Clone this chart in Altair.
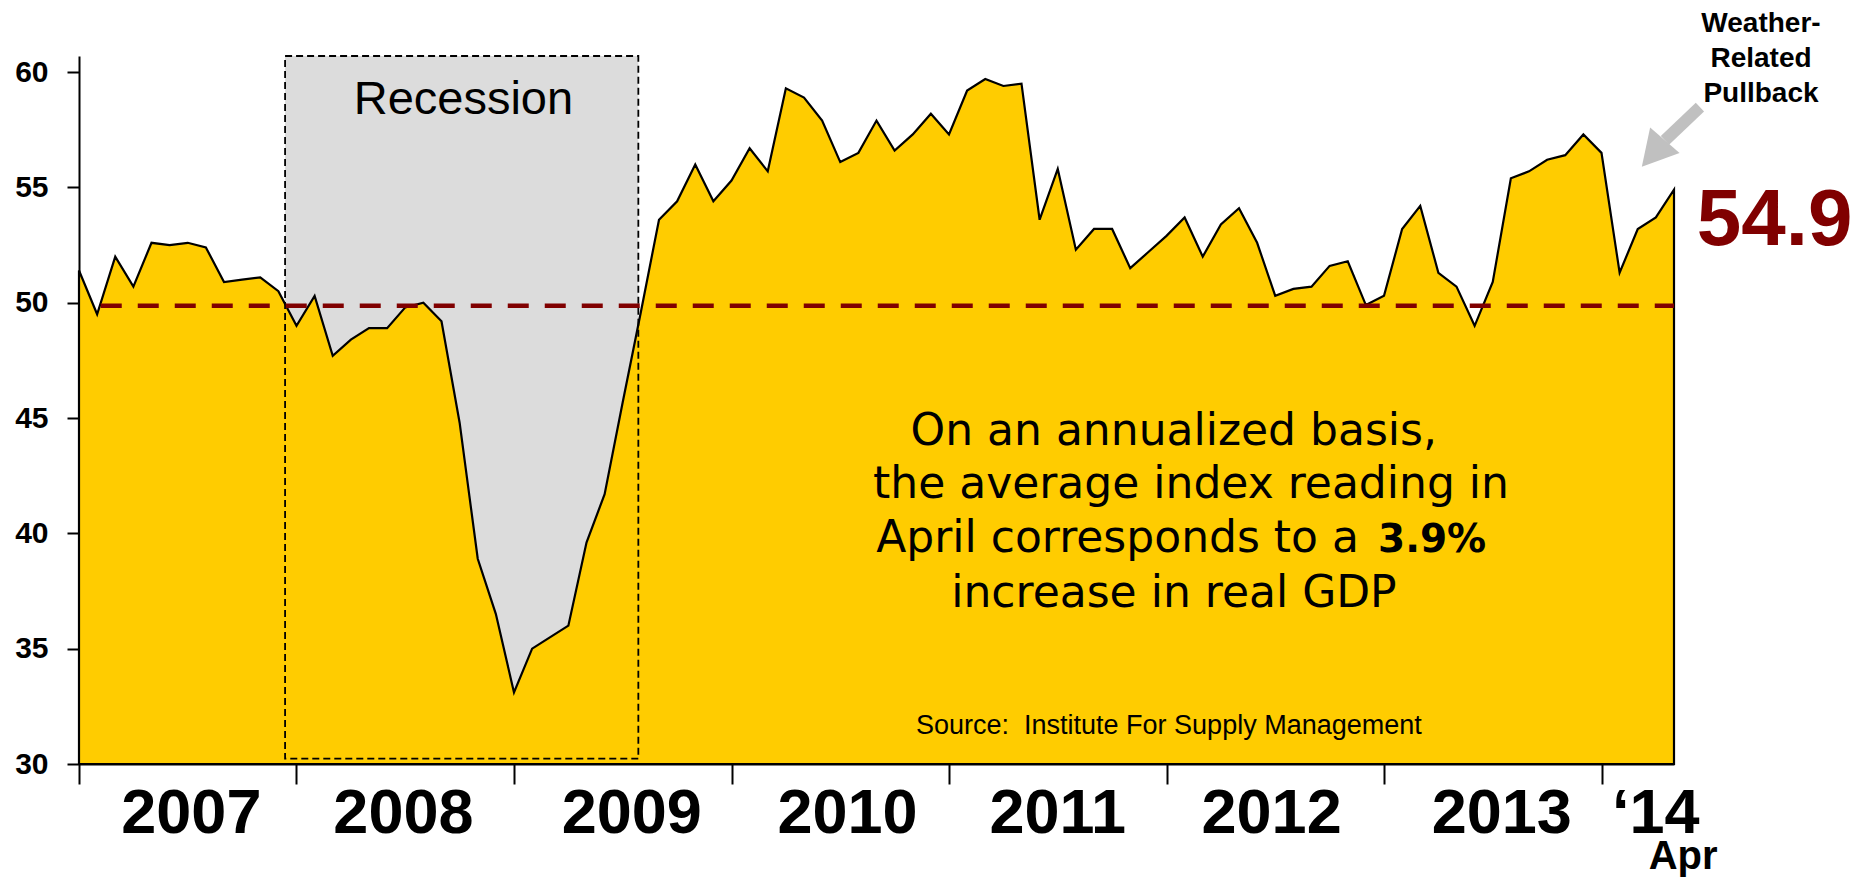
import altair as alt
import pandas as pd

# ISM Manufacturing index, monthly, Dec 2006 .. Apr 2014
months = pd.date_range("2006-12-01", "2014-04-01", freq="MS").strftime("%b %Y").tolist()
ism = [
    51.4,                                                             # Dec 06
    49.5, 52.0, 50.7, 52.6, 52.5, 52.6, 52.4, 50.9, 51.0, 51.1, 50.5, 49.0,  # 2007
    50.3, 47.7, 48.4, 48.9, 48.9, 49.8, 50.0, 49.2, 44.8, 38.9, 36.5, 33.1,  # 2008
    35.0, 35.5, 36.0, 39.6, 41.7, 45.7, 49.6, 53.6, 54.4, 56.0, 54.4, 55.3,  # 2009
    56.7, 55.7, 59.3, 58.9, 57.9, 56.1, 56.5, 57.9, 56.6, 57.3, 58.2, 57.3,  # 2010
    59.2, 59.7, 59.4, 59.5, 53.6, 55.8, 52.3, 53.2, 53.2, 51.5, 52.2, 52.9,  # 2011
    53.7, 52.0, 53.4, 54.1, 52.6, 50.3, 50.6, 50.7, 51.6, 51.8, 49.9, 50.3,  # 2012
    53.2, 54.2, 51.3, 50.7, 49.0, 50.9, 55.4, 55.7, 56.2, 56.4, 57.3, 56.5,  # 2013
    51.3, 53.2, 53.7, 54.9,                                           # 2014
]
year_labels = ["2007", "2008", "2009", "2010", "2011", "2012", "2013", "\u201814"]
year_pos = [6.2, 17.9, 30.5, 42.4, 54.0, 65.8, 78.5, 87.0]
year_ticks = [0, 12, 24, 36, 48, 60, 72, 84]
y_ticks = [30, 35, 40, 45, 50, 55, 60]
breakeven = [49.87]
recession = [{"x": 11.37, "x2": 30.86, "y": 30.23, "y2": 60.7}]

df = pd.DataFrame({"idx": list(range(len(ism))), "month": months, "ism": ism})

XS = alt.Scale(domain=[0, 88], nice=False, zero=False)
YS = alt.Scale(domain=[30, 60.7], nice=False, zero=False)
ARIAL = "Liberation Sans, Arial, Helvetica, sans-serif"
HUMAN = "DejaVu Sans, Verdana, sans-serif"

XA = alt.Axis(values=year_ticks, labels=False, tickSize=20, tickWidth=2,
              tickColor="black", domainColor="black", domainWidth=2,
              grid=False, title=None)
YA = alt.Axis(values=y_ticks, tickSize=12, tickWidth=2, tickColor="black",
              domainColor="black", domainWidth=2, labelFont=ARIAL,
              labelFontSize=30, labelFontWeight="bold", labelColor="black",
              labelPadding=19, grid=False, title=None)


def X(f):
    return alt.X(f, type="quantitative", scale=XS, axis=XA)


def Y(f):
    return alt.Y(f, type="quantitative", scale=YS, axis=YA)


rec_df = pd.DataFrame(recession)
rec_fill = alt.Chart(rec_df).mark_rect(fill="#DCDCDC").encode(
    x=X("x"), x2="x2", y=Y("y"), y2="y2")

area = alt.Chart(df).mark_area(
    color="#FFCC00", stroke="black", strokeWidth=2.2, opacity=1
).encode(
    x=X("idx"),
    y=Y("ism"),
    y2=alt.datum(30),
    tooltip=["month:N", "ism:Q"],
)

rec_box = alt.Chart(rec_df).mark_rect(
    fillOpacity=0, stroke="black", strokeWidth=1.8, strokeDash=[7, 4]
).encode(x=X("x"), x2="x2", y=Y("y"), y2="y2")

rule = alt.Chart(pd.DataFrame({"y": breakeven, "x": [1.2], "x2": [88]})).mark_rule(
    color="#800000", strokeWidth=4.5, strokeDash=[21, 16]
).encode(x=X("x"), x2="x2", y=Y("y"))


def text_layer(rows, **mk):
    return alt.Chart(pd.DataFrame(rows)).mark_text(**mk).encode(
        x=X("x"), y=Y("y"), text="t:N")


years = text_layer(
    {"x": year_pos, "y": [27.0] * len(year_pos), "t": year_labels},
    font=ARIAL, fontSize=63, fontWeight="bold", color="black",
    align="center", baseline="alphabetic")
apr = text_layer({"x": [88.5], "y": [25.45], "t": ["Apr"]},
                 font=ARIAL, fontSize=40, fontWeight="bold", color="black",
                 align="center", baseline="alphabetic")

recession_lbl = text_layer({"x": [21.21], "y": [58.19], "t": ["Recession"]},
                           font=ARIAL, fontSize=47, color="black",
                           align="center", baseline="alphabetic")
last_lbl = text_layer({"x": [93.55], "y": [52.51], "t": ["54.9"]},
                      font=ARIAL, fontSize=80, fontWeight="bold", color="#800000",
                      align="center", baseline="alphabetic")
weather = text_layer({"x": [92.8], "y": [61.76], "t": ["Weather-\nRelated\nPullback"]},
                     font=ARIAL, fontSize=28, fontWeight="bold", color="black",
                     align="center", baseline="alphabetic", lineBreak="\n",
                     lineHeight=35)
source = text_layer({"x": [60.13], "y": [31.29],
                     "t": ["Source:\u00a0 Institute For Supply Management"]},
                    font=ARIAL, fontSize=27, color="black",
                    align="center", baseline="alphabetic")

note_c = text_layer(
    {"x": [60.40, 61.35, 60.41], "y": [43.84, 41.53, 36.82],
     "t": ["On an annualized basis,", "the average index reading in",
           "increase in real GDP"]},
    font=HUMAN, fontSize=44, color="black", align="center", baseline="alphabetic")
note_l = text_layer({"x": [70.62], "y": [39.21], "t": ["April corresponds to a"]},
                    font=HUMAN, fontSize=44, color="black", align="right",
                    baseline="alphabetic")
note_b = text_layer({"x": [71.67], "y": [39.21], "t": ["3.9%"]},
                    font=HUMAN, fontSize=39, fontWeight="bold", color="black",
                    align="left", baseline="alphabetic")

shaft = alt.Chart(pd.DataFrame({"x": [89.43], "y": [58.48], "x2": [87.50], "y2": [57.04]})).mark_rule(
    color="#C0C0C0", strokeWidth=12, strokeCap="butt"
).encode(x=X("x"), y=Y("y"), x2="x2", y2="y2")
head = alt.Chart(pd.DataFrame({"x": [86.86], "y": [56.47]})).mark_point(
    shape="M0,-0.9L1,0.9L-1,0.9Z", size=1521, angle=221, filled=True,
    color="#C0C0C0", opacity=1, strokeWidth=0
).encode(x=X("x"), y=Y("y"))

chart = alt.layer(
    rec_fill, area, rec_box, rule, recession_lbl, note_c, note_l, note_b,
    source, years, apr, last_lbl, weather, shaft, head
).properties(
    width=1595, height=708,
    background="white",
    autosize=alt.AutoSizeParams(type="none"),
    padding={"left": 71, "top": 48, "right": 178, "bottom": 114},
).configure_view(stroke=None)

chart.save("out.html", embed_options={"renderer": "svg", "actions": False})
